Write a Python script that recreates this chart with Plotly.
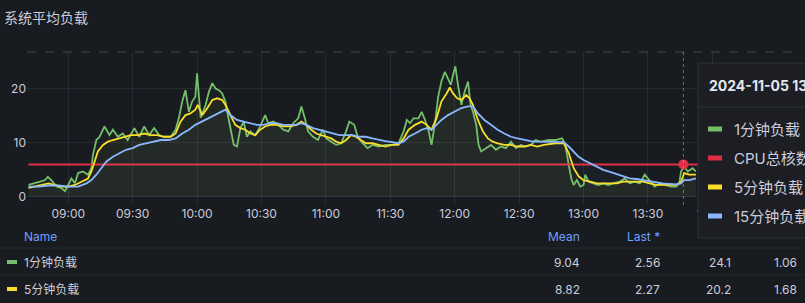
import pandas as pd
import plotly.graph_objects as go

# ---------------- data (minutes after 09:00, values) ----------------
green_min = [-18.5, -15.4, -13.1, -10.8, -9.5, -7.7, -5.4, -3.1, -1.5, 0, 1.5, 3.1, 4.6, 6.9, 9.2, 10.8, 11.5,
             13.1, 14.6, 16.9, 19.2, 20.8, 23.1, 25.4, 27.7, 30.8, 33.1, 35.4, 37.7, 40, 42.3, 44.6, 47.7, 50,
             51.5, 53.1, 54.6, 56.2, 57.7, 59.2, 60, 61.7, 64, 65.5, 67.1, 68.6, 70.2, 71.7, 73.2, 74.8, 75.8,
             77.1, 78.6, 80.2, 81.7, 83.2, 84.8, 87.1, 89.4, 91.7, 93.2, 95.5, 97.8, 100.2, 102.5, 104.8, 107.1,
             108.6, 110.2, 111.7, 114, 116.3, 118.6, 120.2, 122.5, 124.8, 127.1, 129.4, 130.9, 133.2, 134.8,
             137.1, 139.4, 141.7, 144.6, 147.7, 150.8, 153.8, 156.2, 157.7, 159.2, 160.8, 163.1, 164.6, 166.2,
             167.7, 169.2, 170.8, 172.3, 173.8, 175.4, 176.9, 178.2, 179.2, 180.3, 181.5, 183.1, 184.6, 186.2,
             187.4, 188.5, 190, 191.1, 192.3, 194.6, 196.9, 199.2, 201.5, 203.8, 206.2, 208.5, 210.8, 213.1,
             215.4, 217.7, 220, 223.8, 226.9, 230, 231.5, 233.1, 234.3, 235.4, 236.9, 238.5, 240, 240.8, 242.3,
             244.6, 246.9, 249.2, 251.5, 253.8, 256.9, 259.2, 261.5, 263.8, 266.2, 268.5, 270.8, 273.1, 275.4,
             277.7, 280.8, 283.1, 284.6, 285.4, 286.9, 288.5, 290.8, 292.3]
green_val = [2.2, 2.5, 2.8, 3.1, 3.7, 3.0, 1.9, 1.6, 1.06, 2.2, 3.4, 2.5, 4.4, 4.7, 4.1, 5.3, 7.7,
             10.5, 11.1, 13.0, 11.4, 12.4, 11.1, 11.7, 10.5, 12.7, 11.1, 13.0, 11.4, 12.7, 11.4, 11.1, 11.1, 12.4,
             14.5, 17.6, 19.7, 15.7, 17.6, 18.5, 22.8, 14.6, 17.0, 19.4, 21.0, 20.0, 19.7, 19.1, 17.6, 14.2, 12.0,
             9.6, 9.3, 12.7, 13.9, 11.1, 12.1, 11.4, 13.0, 15.1, 13.6, 13.9, 13.3, 12.4, 12.1, 13.6, 14.5,
             16.7, 14.5, 12.1, 11.1, 10.5, 12.4, 10.8, 10.2, 9.6, 9.9, 12.1, 13.9, 13.3, 11.1,
             9.9, 9.0, 9.6, 9.3, 9.6, 9.6, 9.9, 12.1, 14.2, 13.6, 14.5, 14.5, 15.7, 14.2,
             12.4, 9.6, 13.6, 18.5, 21.3, 23.1, 21.9, 20.7, 22.5, 24.1, 20.7, 17.0, 19.4, 21.3,
             17.0, 15.7, 13.3, 9.6, 8.4, 9.0, 9.6, 8.7, 9.3, 9.0, 10.2, 9.0, 9.6, 9.3,
             9.6, 10.5, 10.2, 10.5, 10.5, 10.8, 9.6, 5.9, 3.4, 2.2, 3.1, 1.9, 2.2, 4.1, 2.8,
             2.5, 2.2, 2.5, 2.2, 2.5, 2.8, 3.4, 2.5, 2.8, 2.5, 4.1, 3.1, 1.9, 2.5,
             2.2, 1.9, 1.9, 2.5, 4.7, 5.6, 4.7, 5.3, 4.7]

yellow_min = [-18.5, -15.4, -12.3, -9.2, -6.2, -3.1, 0, 3.1, 6.2, 9.2, 10.8, 12.3, 13.8, 16.2, 18.5, 20.8, 23.1,
              26.2, 29.2, 32.3, 35.4, 38.5, 41.5, 44.6, 47.7, 50, 52.3, 54.6, 56.9, 59.2, 60.3, 62.5, 64.8, 67.1,
              69.4, 71.7, 73.2, 75.5, 77.8, 80.2, 82.5, 84.8, 87.1, 89.4, 91.7, 94, 97.1, 100.2, 103.2, 106.3,
              108.6, 110.9, 113.2, 115.5, 117.8, 120.2, 122.5, 124.8, 127.1, 129.4, 131.7, 134, 136.3, 138.6,
              141.7, 144.6, 147.7, 150.8, 153.8, 156.2, 158.5, 161.5, 164.6, 166.9, 169.2, 171.5, 173.8, 176.2,
              177.7, 179.2, 181.2, 183.1, 185.4, 186.9, 188.5, 190.8, 193.1, 195.4, 197.7, 200, 203.1, 206.2,
              209.2, 212.3, 215.4, 218.5, 221.5, 226.9, 230.8, 233.1, 235.4, 237.7, 240, 243.1, 246.2, 249.2,
              252.3, 255.4, 258.5, 261.5, 264.6, 267.7, 270.8, 273.8, 276.9, 280, 283.1, 285.4, 286.9, 289.2,
              292.3]
yellow_val = [1.68, 1.9, 2.2, 2.5, 2.2, 1.9, 1.9, 2.2, 2.8, 3.4, 4.7, 6.5, 8.4, 9.6, 10.2, 10.5, 10.8,
              11.1, 11.4, 11.4, 11.7, 11.4, 11.4, 11.1, 11.1, 11.7, 13.9, 15.1, 15.4, 16.1, 17.0, 15.1, 16.4, 17.9,
              18.2, 17.9, 17.0, 15.1, 13.3, 12.7, 12.4, 11.7, 11.4, 12.4, 13.0, 13.3, 13.3, 13.0, 13.0, 13.3,
              13.9, 13.3, 12.4, 11.7, 11.4, 11.1, 10.8, 10.2, 9.9, 10.5, 11.4, 11.1, 10.5, 9.9,
              9.9, 9.6, 9.3, 9.6, 9.6, 10.8, 12.4, 13.3, 13.9, 13.3, 12.4, 14.5, 17.6, 19.1,
              20.2, 19.1, 18.2, 17.9, 18.8, 18.2, 17.0, 14.2, 12.1, 10.8, 10.2, 9.9, 9.6, 9.6,
              9.3, 9.3, 9.6, 9.3, 9.6, 9.9, 9.9, 8.1, 5.3, 3.8, 3.1, 2.8, 2.5, 2.5,
              2.5, 2.5, 2.8, 2.8, 2.8, 2.8, 2.5, 2.2, 2.2, 2.2, 2.2, 2.8, 4.4, 4.1,
              4.1]

blue_min = [-18.5, -13.8, -9.2, -4.6, 0, 4.6, 8.5, 10.8, 13.1, 15.4, 17.7, 20.8, 23.8, 26.9, 30, 33.1, 36.2,
            39.2, 43.1, 46.9, 50, 53.1, 56.2, 59.2, 62.3, 64.8, 67.8, 70.9, 73.2, 75.5, 78.6, 81.7, 84.8, 87.8,
            90.9, 94, 97.1, 100.2, 103.2, 106.3, 108.6, 110.9, 114, 117.1, 120.2, 123.2, 126.3, 129.4, 132.5,
            135.5, 138.6, 141.7, 144.6, 147.7, 150.8, 153.8, 156.2, 158.5, 161.5, 164.6, 166.9, 169.2, 171.5,
            173.8, 176.9, 180, 183.1, 186.2, 188.5, 190.8, 193.8, 196.9, 200, 203.1, 206.2, 209.2, 212.3, 215.4,
            218.5, 221.5, 226.9, 230.8, 233.1, 235.4, 237.7, 240, 243.1, 246.2, 249.2, 252.3, 255.4, 258.5,
            261.5, 264.6, 267.7, 270.8, 273.8, 276.9, 280, 283.1, 285.4, 286.9, 289.2, 292.3]
blue_val = [1.9, 1.9, 2.1, 2.1, 1.9, 1.9, 2.5, 3.1, 4.1, 5.3, 6.5, 7.4, 8.1, 8.7, 9.0, 9.6, 9.9,
            10.2, 10.5, 10.5, 10.8, 11.7, 12.4, 13.3, 13.9, 14.5, 15.1, 15.7, 16.1, 15.1, 14.2, 13.9, 13.6, 13.3,
            13.3, 13.6, 13.6, 13.3, 13.3, 13.3, 13.6, 13.3, 12.7, 12.4, 12.1, 11.7, 11.4, 11.4, 11.4,
            11.1, 11.1, 10.8, 10.5, 10.3, 10.1, 9.9, 10.2, 11.1, 11.7, 12.4, 12.7, 12.4, 13.3,
            14.2, 15.1, 15.7, 16.4, 16.7, 16.7, 15.4, 14.2, 13.3, 12.4, 11.7, 11.1, 10.8, 10.5, 10.3,
            10.2, 10.2, 10.2, 10.1, 9.3, 8.4, 7.4, 6.8, 6.2, 5.6, 5.0, 4.6, 4.2, 3.8,
            3.4, 3.3, 3.1, 2.8, 2.7, 2.5, 2.4, 2.3, 2.5, 3.1, 3.1, 3.4]

cpu_cores = 6
cursor_min = 286.5

series_names = ["1分钟负载", "CPU总核数", "5分钟负载", "15分钟负载"]
series_colors = ["#73BF69", "#E02F44", "#FADE2A", "#8AB8FF"]

x_tick_labels = ["09:00", "09:30", "10:00", "10:30", "11:00", "11:30", "12:00", "12:30", "13:00", "13:30", "14:00"]

table_headers = ["Name", "Mean", "Last *"]
table_rows = [
    ("1分钟负载", "9.04", "2.56", "24.1", "1.06"),
    ("5分钟负载", "8.82", "2.27", "20.2", "1.68"),
]
tooltip_title = "2024-11-05 13:48"
panel_title = "系统平均负载"

base = pd.Timestamp("2024-11-05 09:00:00")


def t(mins):
    return base + pd.to_timedelta(mins, unit="m")


# ---------------- layout geometry ----------------
W, H = 805, 303
L, R, T, B = 27, 5, 52, 98
PW = W - L - R
PH = H - T - B


def px(x):
    return (x - L) / PW


def py(y):
    return (H - B - y) / PH


BG = "#181b1f"
TXT = "#ccccdc"
FONT = "Inter, 'Noto Sans CJK SC', sans-serif"

fig = go.Figure()

fill_cols = ["rgba(115,191,105,0.045)", None, "rgba(250,222,42,0.03)", "rgba(138,184,255,0.03)"]

fig.add_trace(go.Scatter(x=t(pd.Series(green_min)), y=green_val, mode="lines", name=series_names[0],
                         line=dict(color=series_colors[0], width=1.8), fill="tozeroy",
                         fillcolor=fill_cols[0]))
fig.add_trace(go.Scatter(x=[t(-18.5), t(cursor_min + 8)], y=[cpu_cores, cpu_cores], mode="lines",
                         name=series_names[1], line=dict(color=series_colors[1], width=2)))
fig.add_trace(go.Scatter(x=t(pd.Series(yellow_min)), y=yellow_val, mode="lines", name=series_names[2],
                         line=dict(color=series_colors[2], width=1.8), fill="tozeroy",
                         fillcolor=fill_cols[2]))
fig.add_trace(go.Scatter(x=t(pd.Series(blue_min)), y=blue_val, mode="lines", name=series_names[3],
                         line=dict(color=series_colors[3], width=1.8), fill="tozeroy",
                         fillcolor=fill_cols[3]))
fig.add_trace(go.Scatter(x=[t(cursor_min)], y=[cpu_cores], mode="markers",
                         marker=dict(color=series_colors[1], size=10), showlegend=False))

shapes = []
# cursor line
shapes.append(dict(type="line", xref="x", yref="paper", x0=t(cursor_min), x1=t(cursor_min), y0=0, y1=1,
                   line=dict(color="rgba(204,204,220,0.45)", width=1, dash="dot")))
# top dashed line
shapes.append(dict(type="line", xref="paper", yref="paper", x0=0, x1=1, y0=1, y1=1,
                   line=dict(color="rgba(204,204,220,0.25)", width=1, dash="dash")))
# table separators
for yy in (248, 275):
    shapes.append(dict(type="line", xref="paper", yref="paper", x0=px(0), x1=px(W), y0=py(yy), y1=py(yy),
                       line=dict(color="rgba(204,204,220,0.08)", width=1)))
# legend markers in table
for i, yy in enumerate((262, 289)):
    col = series_colors[0] if i == 0 else series_colors[2]
    shapes.append(dict(type="rect", xref="paper", yref="paper", x0=px(7), x1=px(17), y0=py(yy + 2),
                       y1=py(yy - 2), fillcolor=col, line=dict(width=0)))
# tooltip box
shapes.append(dict(type="rect", xref="paper", yref="paper", x0=px(698), x1=px(812), y0=py(238), y1=py(63),
                   fillcolor="#1c1e23", line=dict(color="#2c3036", width=1), layer="above"))
shapes.append(dict(type="line", xref="paper", yref="paper", x0=px(698), x1=px(812), y0=py(107), y1=py(107),
                   line=dict(color="#2c3036", width=1), layer="above"))
tip_y = [129, 158, 187, 216]
for name, col, yy in zip(series_names, series_colors, tip_y):
    shapes.append(dict(type="rect", xref="paper", yref="paper", x0=px(708), x1=px(722), y0=py(yy + 2.5),
                       y1=py(yy - 2.5), fillcolor=col, line=dict(width=0), layer="above"))

annotations = []
annotations.append(dict(text=panel_title, xref="paper", yref="paper", x=px(2), y=py(18), xanchor="left",
                        yanchor="middle", showarrow=False, font=dict(size=14, color=TXT)))
# table header
annotations.append(dict(text=table_headers[0], xref="paper", yref="paper", x=px(22), y=py(236),
                        xanchor="left", yanchor="middle", showarrow=False, font=dict(size=12, color="#6E9FFF")))
annotations.append(dict(text=table_headers[1], xref="paper", yref="paper", x=px(582), y=py(236),
                        xanchor="right", yanchor="middle", showarrow=False, font=dict(size=12, color="#6E9FFF")))
annotations.append(dict(text=table_headers[2], xref="paper", yref="paper", x=px(662), y=py(236),
                        xanchor="right", yanchor="middle", showarrow=False, font=dict(size=12, color="#6E9FFF")))
value_right = [582, 662, 733, 799]
for row, yy in zip(table_rows, (262, 289)):
    annotations.append(dict(text=row[0], xref="paper", yref="paper", x=px(22), y=py(yy), xanchor="left",
                            yanchor="middle", showarrow=False, font=dict(size=12, color=TXT)))
    for v, xr in zip(row[1:], value_right):
        annotations.append(dict(text=v, xref="paper", yref="paper", x=px(xr), y=py(yy), xanchor="right",
                                yanchor="middle", showarrow=False, font=dict(size=12, color=TXT)))
# tooltip text
annotations.append(dict(text="<b>" + tooltip_title + "</b>", xref="paper", yref="paper", x=px(707), y=py(85),
                        xanchor="left", yanchor="middle", showarrow=False, font=dict(size=14, color="#e6e6ee")))
for name, yy in zip(series_names, tip_y):
    annotations.append(dict(text=name, xref="paper", yref="paper", x=px(732), y=py(yy), xanchor="left",
                            yanchor="middle", showarrow=False, font=dict(size=15, color=TXT)))

tick_times = [base + pd.Timedelta(minutes=30 * i) for i in range(len(x_tick_labels))]

fig.update_layout(
    width=W, height=H,
    margin=dict(l=L, r=R, t=T, b=B),
    paper_bgcolor=BG, plot_bgcolor=BG,
    showlegend=False,
    font=dict(family=FONT, color=TXT, size=12),
    shapes=shapes, annotations=annotations,
    xaxis=dict(range=[t(-19.2), t(340.8)], type="date", tickvals=tick_times, ticktext=x_tick_labels,
               showgrid=True, gridcolor="rgba(204,204,220,0.09)", zeroline=False,
               showline=False, ticks="", tickfont=dict(size=12, color=TXT)),
    yaxis=dict(range=[-1.5, 26.75], tickvals=[0, 10, 20], showgrid=True,
               gridcolor="rgba(204,204,220,0.09)", zeroline=False, showline=False, ticks="",
               tickfont=dict(size=12, color=TXT)),
)

fig.write_html("out.html")
